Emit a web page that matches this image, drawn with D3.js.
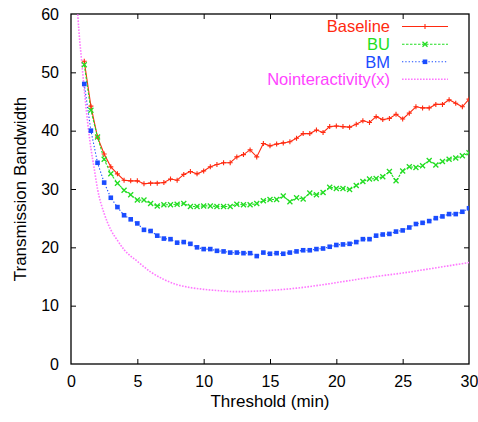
<!DOCTYPE html>
<html><head><meta charset="utf-8">
<script src="https://cdn.jsdelivr.net/npm/d3@7"></script>
<style>body{margin:0;background:#fff}svg{display:block}text{font-family:"Liberation Sans",Arial,Helvetica,sans-serif}</style>
</head><body>
<script>
const thresholds = [1,1.5,2,2.5,3,3.5,4,4.5,5,5.5,6,6.5,7,7.5,8,8.5,9,9.5,10,10.5,11,11.5,12,12.5,13,13.5,14,14.5,15,15.5,16,16.5,17,17.5,18,18.5,19,19.5,20,20.5,21,21.5,22,22.5,23,23.5,24,24.5,25,25.5,26,26.5,27,27.5,28,28.5,29,29.5,30];
const baseline = [51.9,44.2,38.9,36.0,33.8,32.6,31.5,31.4,31.4,30.9,31.0,31.0,31.1,31.7,31.5,32.5,33.0,32.6,33.1,33.8,34.2,34.5,34.5,35.5,35.9,36.7,35.5,37.8,37.4,37.7,37.9,38.1,38.7,39.5,39.5,40.1,39.7,40.7,40.8,40.7,40.6,41.1,41.7,41.4,42.4,41.9,42.1,42.8,42.0,43.0,44.1,43.9,43.9,44.5,44.5,45.3,44.7,44.1,45.4];
const bu = [51.3,43.5,38.9,35.1,32.6,31.0,29.8,29.0,28.1,28.1,27.5,27.1,27.3,27.3,27.4,27.5,27.0,27.0,27.1,27.1,27.0,27.0,27.0,27.4,27.3,27.3,27.5,28.0,28.2,28.2,28.8,27.8,28.5,28.3,29.3,29.0,29.4,30.3,30.1,30.1,29.9,30.6,31.3,31.7,31.8,32.1,33.0,31.4,33.1,33.8,33.7,34.0,34.9,34.1,34.7,35.1,35.3,35.7,36.2];
const bm = [48.0,40.0,34.5,31.1,28.5,26.9,25.5,24.8,24.1,23.0,22.8,22.0,21.5,21.4,20.8,20.9,20.6,20.0,19.7,19.7,19.4,19.3,19.1,19.1,19.0,19.0,18.5,19.1,18.9,19.0,18.9,19.1,19.3,19.5,19.5,19.7,19.8,20.1,20.4,20.5,20.6,20.9,21.4,21.4,22.0,22.2,22.3,22.7,22.9,23.4,24.0,24.2,24.5,25.0,25.3,25.7,25.7,26.1,26.7];
const noX = [0.45,0.6,0.8,1.0,1.25,1.5,1.75,2.0,2.5,3.0,3.5,4.0,5.0,6.0,7.0,8.0,9.0,10.0,11.0,12.5,14.0,15.5,17.0,19.0,21.0,23.0,25.0,27.0,30.0];
const noY = [62,57,52,47,41.5,37,33.5,30,25.8,23.0,21.2,19.6,17.6,15.8,14.5,13.6,13.1,12.8,12.6,12.4,12.5,12.7,13.0,13.6,14.3,15.0,15.6,16.3,17.4];
const xTicks = [0,5,10,15,20,25,30];
const yTicks = [0,10,20,30,40,50,60];
const seriesNames = ["Baseline","BU","BM","Nointeractivity(x)"];
const colors = ["#ff2a10","#22dd22","#1a4cff","#ff44ff"];

const W=478,H=422, L=71, R=469, T=14, B=364;
const svg=d3.select("body").append("svg").attr("width",W).attr("height",H);
const x=d3.scaleLinear().domain([0,30]).range([L,R]);
const y=d3.scaleLinear().domain([0,60]).range([B,T]);
const fs=17, tfs=16, lfs=16.5;

svg.append("defs").append("clipPath").attr("id","clip").append("rect")
  .attr("x",L).attr("y",T).attr("width",R-L).attr("height",B-T);

const tl=5;
const gx=svg.append("g").attr("transform",`translate(0,${B})`)
  .call(d3.axisBottom(x).tickValues(xTicks).tickSize(-tl).tickPadding(12));
const gx2=svg.append("g").attr("transform",`translate(0,${T})`)
  .call(d3.axisTop(x).tickValues(xTicks).tickSize(-tl).tickFormat(""));
const gy=svg.append("g").attr("transform",`translate(${L},0)`)
  .call(d3.axisLeft(y).tickValues(yTicks).tickSize(-tl).tickPadding(12));
const gy2=svg.append("g").attr("transform",`translate(${R},0)`)
  .call(d3.axisRight(y).tickValues(yTicks).tickSize(-tl).tickFormat(""));
[gx,gx2,gy,gy2].forEach(g=>{g.select(".domain").remove();g.selectAll("line").attr("stroke","#000").attr("stroke-width",1);g.selectAll("text").attr("font-size",tfs).attr("fill","#000").attr("font-family","Liberation Sans, Arial, sans-serif");});
gx.selectAll("line").filter(d=>d===0||d===30).remove();
gx2.selectAll("line").filter(d=>d===0||d===30).remove();
gy.selectAll("line").filter(d=>d===0||d===60).remove();
gy2.selectAll("line").filter(d=>d===0||d===60).remove();

svg.append("rect").attr("x",L).attr("y",T).attr("width",R-L).attr("height",B-T)
  .attr("fill","none").attr("stroke","#000").attr("stroke-width",1.3);

svg.append("text").attr("x",(L+R)/2).attr("y",406.5).attr("text-anchor","middle").attr("font-size",fs).text("Threshold (min)");
svg.append("text").attr("transform",`translate(26,${(T+B)/2}) rotate(-90)`).attr("text-anchor","middle").attr("font-size",fs).text("Transmission Bandwidth");

const plot=svg.append("g").attr("clip-path","url(#clip)");
const line=d3.line().x(d=>x(d[0])).y(d=>y(d[1]));
const lineSmooth=d3.line().x(d=>x(d[0])).y(d=>y(d[1])).curve(d3.curveMonotoneX);

plot.append("path").datum(noX.map((v,i)=>[v,noY[i]])).attr("d",lineSmooth)
  .attr("fill","none").attr("stroke","#ff77ff").attr("stroke-width",1.6).attr("stroke-dasharray","1.6,1.4");

const dsets=[baseline,bu,bm];
const dashes=[null,"2.5,1.5","1.3,2"];
dsets.forEach((vals,k)=>{
  const pts=thresholds.map((t,i)=>[t,vals[i]]);
  const p=plot.append("path").datum(pts).attr("d",line).attr("fill","none")
    .attr("stroke",colors[k]).attr("stroke-width",1.1);
  if(dashes[k]) p.attr("stroke-dasharray",dashes[k]);
});

function marker(g,k,cx,cy){
  if(k===0){
    g.append("path").attr("d",`M${cx-2.5},${cy}H${cx+2.5}M${cx},${cy-2.5}V${cy+2.5}`).attr("stroke",colors[0]).attr("stroke-width",1.1);
  } else if(k===1){
    g.append("path").attr("d",`M${cx-2.5},${cy-2.5}L${cx+2.5},${cy+2.5}M${cx-2.5},${cy+2.5}L${cx+2.5},${cy-2.5}`).attr("stroke",colors[1]).attr("stroke-width",1.3);
  } else if(k===2){
    g.append("rect").attr("x",cx-2.3).attr("y",cy-2.3).attr("width",4.6).attr("height",4.6).attr("fill",colors[2]);
  }
}
dsets.forEach((vals,k)=>{
  const g=plot.append("g");
  thresholds.forEach((t,i)=>marker(g,k,x(t),y(vals[i])));
});

const ly=[26.5,44.3,61.8,79.3];
seriesNames.forEach((n,k)=>{
  svg.append("text").attr("x",390).attr("y",ly[k]).attr("dy","0.35em").attr("text-anchor","end")
    .attr("font-size",lfs).attr("fill",colors[k]).text(n);
  const l=svg.append("line").attr("x1",402).attr("x2",448).attr("y1",ly[k]).attr("y2",ly[k])
    .attr("stroke",k===3?"#ff77ff":colors[k]).attr("stroke-width",k===3?1.6:1.1);
  if(k===1) l.attr("stroke-dasharray","2.5,1.5");
  if(k===2) l.attr("stroke-dasharray","1.3,2");
  if(k===3) l.attr("stroke-dasharray","1.6,1.4");
  if(k<3) marker(svg,k,425,ly[k]);
});
</script>
</body></html>
